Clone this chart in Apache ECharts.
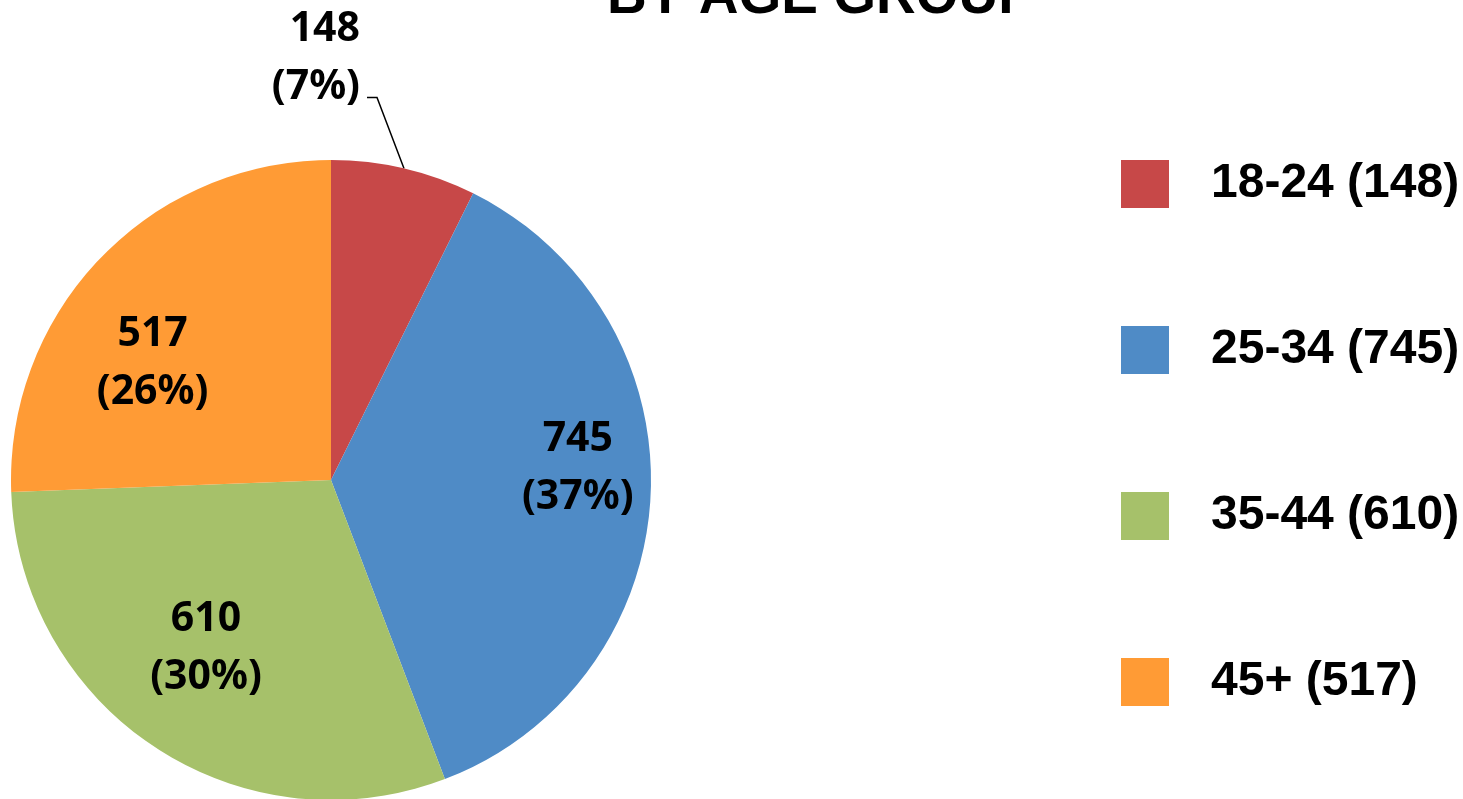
<!DOCTYPE html>
<html>
<head>
<meta charset="utf-8">
<script src="https://cdn.jsdelivr.net/npm/echarts@6/dist/echarts.min.js"></script>
<style>
  html, body { margin: 0; padding: 0; background: #fff; }
  #chart { width: 1463px; height: 799px; }
</style>
</head>
<body>
<div id="chart"></div>
<script>
// chart data
const ageGroups = ['18-24', '25-34', '35-44', '45+']
const counts = [148, 745, 610, 517]
const sliceColors = ['#C74848', '#4F8BC6', '#A6C16A', '#FF9B35']

const total = counts.reduce((a, b) => a + b, 0)

const chart = echarts.init(document.getElementById('chart'))

// nudges for the inside labels (Excel "best fit" puts them off the mid radius)
const labelShift = {
  1: [84, -20],
  2: [-35, 32],
  3: [-61, -4]
}

const option = {
  animation: false,
  title: {
    text: 'BY AGE GROUP',
    left: 816,
    top: -37,
    textAlign: 'center',
    textStyle: {
      fontFamily: 'Liberation Sans',
      fontSize: 55,
      fontWeight: 'bold',
      color: '#000',
      lineHeight: 60
    }
  },
  legend: {
    orient: 'vertical',
    left: 1121,
    top: 160,
    padding: 0,
    itemWidth: 48,
    itemHeight: 48,
    itemGap: 118,
    icon: 'rect',
    data: ageGroups,
    formatter: function (name) {
      const i = ageGroups.indexOf(name)
      return name + ' (' + counts[i] + ')'
    },
    textStyle: {
      fontFamily: 'Liberation Sans',
      fontSize: 48,
      fontWeight: 'bold',
      color: '#000',
      padding: [10, 0, 0, 37]
    }
  },
  series: [
    {
      type: 'pie',
      center: [331, 480],
      radius: 320,
      startAngle: 90,
      clockwise: true,
      avoidLabelOverlap: false,
      silent: true,
      data: ageGroups.map((g, i) => ({
        name: g,
        value: counts[i],
        itemStyle: { color: sliceColors[i] },
        label: { position: i === 0 ? 'outside' : 'inside' },
        labelLine: { show: i === 0 }
      })),
      label: {
        formatter: function (p) {
          return p.value + '\n(' + Math.round(p.value / total * 100) + '%)'
        },
        fontFamily: 'Noto Sans',
        fontWeight: 'bold',
        fontSize: 41,
        lineHeight: 58,
        color: '#000'
      },
      labelLine: {
        length: 40,
        length2: 10,
        lineStyle: { color: '#000', width: 1.5 }
      },
      labelLayout: function (params) {
        if (params.dataIndex === 0) {
          const p0 = params.labelLinePoints[0]
          const p1 = [p0[0] - 27, p0[1] - 71]
          const p2 = [p1[0] - 10, p1[1]]
          return {
            labelLinePoints: [p0, p1, p2],
            x: p2[0] - 7,
            y: p2[1] - 39,
            align: 'right',
            verticalAlign: 'middle'
          }
        }
        const s = labelShift[params.dataIndex]
        const r = params.labelRect
        return {
          x: r.x + r.width / 2 + s[0],
          y: r.y + r.height / 2 + s[1],
          align: 'center',
          verticalAlign: 'middle'
        }
      }
    }
  ]
}

chart.setOption(option)
</script>
</body>
</html>
